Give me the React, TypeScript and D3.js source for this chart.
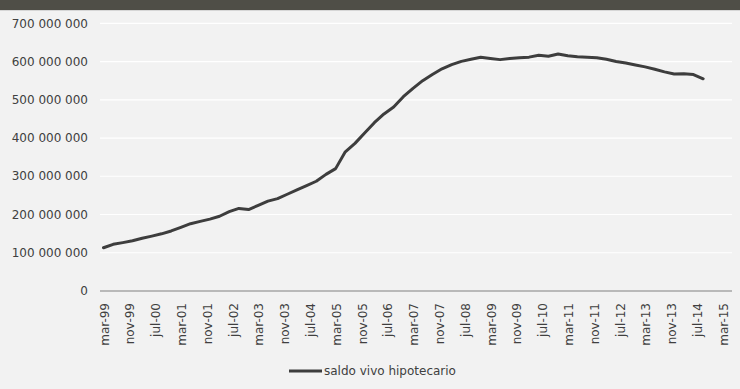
import React from "react";
import * as d3 from "d3";

// Quarterly readings (millions of euros), starting mar-99, every 3 months
const startLabel = "mar-99";
const stepMonths = 3;
const saldoVivo = [
  113, 122, 126.5, 131.5, 138, 143.5, 149.5, 157, 166.5, 176, 182, 188, 195.5,
  207.5, 216, 213, 224, 235, 241.5, 253, 264.5, 275.5, 287, 305, 320, 364, 386,
  413, 440, 463, 481, 508, 530, 550, 566, 581, 592, 600.5, 606, 611, 608, 605,
  608, 610, 611.5, 616.5, 614, 619.5, 615, 612.5, 611, 610, 606, 600, 596, 591,
  586, 580, 573, 567.5, 568, 566, 555,
];

const xTickLabels = [
  "mar-99", "nov-99", "jul-00", "mar-01", "nov-01", "jul-02", "mar-03", "nov-03",
  "jul-04", "mar-05", "nov-05", "jul-06", "mar-07", "nov-07", "jul-08", "mar-09",
  "nov-09", "jul-10", "mar-11", "nov-11", "jul-12", "mar-13", "nov-13", "jul-14",
  "mar-15",
];
const xTickStepMonths = 8;

const yTicks = [0, 100e6, 200e6, 300e6, 400e6, 500e6, 600e6, 700e6];
const yTickLabels = [
  "0", "100 000 000", "200 000 000", "300 000 000", "400 000 000",
  "500 000 000", "600 000 000", "700 000 000",
];

const seriesName = "saldo vivo hipotecario";

const W = 740;
const H = 389;
const FONT = "'DejaVu Sans', Verdana, sans-serif";
const TEXT = "#404040";

export default function App() {
  const x = d3.scaleLinear().domain([0, 192]).range([103.5, 722.5]);
  const y = d3.scaleLinear().domain([0, 700e6]).range([291, 23.3]);

  const pts = saldoVivo.map((v, i) => [i * stepMonths, v * 1e6] as [number, number]);
  const line = d3
    .line<[number, number]>()
    .x((d) => x(d[0]))
    .y((d) => y(d[1]));

  const plotLeft = 100;
  const plotRight = 732;

  return (
    <div style={{ position: "fixed", left: 0, top: 0 }}>
      <svg width={W} height={H} style={{ display: "block" }}>
        <rect x={0} y={0} width={W} height={H} fill="#f2f2f2" />
        <rect x={0} y={0} width={W} height={10} fill="#4f4e47" />
        <line x1={0} x2={W} y1={10.5} y2={10.5} stroke="#d6d6d6" strokeWidth={1} />

        {yTicks.map((t, i) =>
          t === 0 ? null : (
            <line
              key={"g" + i}
              x1={plotLeft}
              x2={plotRight}
              y1={y(t)}
              y2={y(t)}
              stroke="#ffffff"
              strokeWidth={1.2}
            />
          )
        )}
        <line x1={plotLeft} x2={plotRight} y1={y(0)} y2={y(0)} stroke="#a6a6a6" strokeWidth={1.5} />

        {yTicks.map((t, i) => (
          <text
            key={"yl" + i}
            x={88}
            y={y(t)}
            dy="0.35em"
            textAnchor="end"
            fontFamily={FONT}
            fontSize={12}
            fill={TEXT}
          >
            {yTickLabels[i]}
          </text>
        ))}

        {xTickLabels.map((lab, i) => (
          <text
            key={"xl" + i}
            transform={`translate(${x(i * xTickStepMonths) + 1},303) rotate(-90)`}
            dy="0.35em"
            textAnchor="end"
            fontFamily={FONT}
            fontSize={12}
            fill={TEXT}
          >
            {lab}
          </text>
        ))}

        <path
          d={line(pts) || ""}
          fill="none"
          stroke="#3d3d3d"
          strokeWidth={3}
          strokeLinejoin="round"
          strokeLinecap="round"
        />

        <line x1={289} x2={322} y1={371} y2={371} stroke="#3d3d3d" strokeWidth={3} />
        <text x={324} y={371} dy="0.35em" fontFamily={FONT} fontSize={12} fill={TEXT}>
          {seriesName}
        </text>
      </svg>
    </div>
  );
}
